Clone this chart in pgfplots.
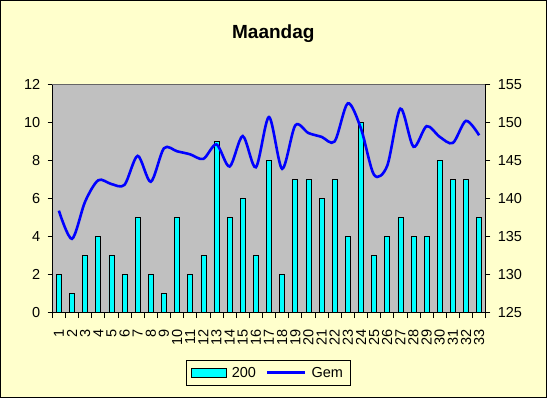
\documentclass[border=0pt]{standalone}
\usepackage{pgfplots}
\pgfplotsset{compat=1.18}
\usepackage{fontspec}
\setmainfont{Liberation Sans}
\definecolor{bgyellow}{HTML}{FFFFCC}
\definecolor{plotgray}{HTML}{C0C0C0}
\definecolor{barcyan}{HTML}{00FFFF}
\definecolor{lineblue}{HTML}{0000FF}
\pgfplotstableread{
x bars
1 2
2 1
3 3
4 4
5 3
6 2
7 5
8 2
9 1
10 5
11 2
12 3
13 9
14 5
15 6
16 3
17 8
18 2
19 7
20 7
21 6
22 7
23 4
24 10
25 3
26 4
27 5
28 4
29 4
30 8
31 7
32 7
33 5
}\bartable
\pgfplotstableread{
x gem
1 138.4
2 134.7
3 139.6
4 142.4
5 141.9
6 141.8
7 145.6
8 142.2
9 146.6
10 146.2
11 145.8
12 145.2
13 147.1
14 144.2
15 148.2
16 144.1
17 150.7
18 143.9
19 149.6
20 148.6
21 148.1
22 147.5
23 152.5
24 149.2
25 143.1
26 144.3
27 151.8
28 146.8
29 149.5
30 148.1
31 147.3
32 150.2
33 148.3
}\linetable
\begin{document}
\begin{tikzpicture}[x=1bp,y=1bp]
\useasboundingbox (0,0) rectangle (547,398);
\fill[bgyellow] (0,0) rectangle (547,398);
\draw[black, line width=1bp] (0.5,0.5) rectangle (546.5,397.5);
\node[font=\fontsize{19bp}{22bp}\selectfont\bfseries, anchor=base] at (273.3,359.7) {Maandag};
\pgfplotsset{
  common/.style={
    scale only axis,
    width=433.4bp, height=228.4bp,
    at={(52.3bp,85.3bp)}, anchor=south west,
    xmin=0.5, xmax=33.5,
    tick align=outside,
    major tick length=4.6bp,
    minor tick length=5.3bp,
    tick style={black, line width=0.8bp},
    axis line style={black, line width=0.8bp, -},
    tick label style={font=\fontsize{14.5bp}{16bp}\selectfont},
    /pgf/number format/assume math mode=true,
  }
}
\begin{axis}[common,
  axis background/.style={fill=plotgray},
  axis x line*=bottom, axis y line*=left,
  ymin=0, ymax=12, ytick={0,2,...,12},
  xtick={1,...,33},
  major x tick style={draw=none},
  minor xtick={0.5,1.5,...,33.5},
  xticklabel style={rotate=90, anchor=east, xshift=-9bp},
  yticklabel style={xshift=-4bp},
  after end axis/.code={\draw[color=gray!80!black, line width=0.8bp] (rel axis cs:0,1) -- (rel axis cs:1,1);},
]
\addplot[ybar, bar width=5bp, fill=barcyan, draw=black, line width=0.6bp] table[x=x,y=bars] {\bartable};
\end{axis}
\begin{axis}[common,
  axis x line=none, axis y line*=right,
  ymin=125, ymax=155, ytick={125,130,...,155},
  yticklabel style={xshift=4bp},
  legend columns=2,
  legend style={at={(0.498,-0.263)}, anchor=center, fill=bgyellow, draw=black, line width=0.8bp,
    font=\fontsize{14.5bp}{16bp}\selectfont, inner xsep=5bp, inner ysep=5bp,
    /tikz/every odd column/.append style={column sep=3bp},
    /tikz/every even column/.append style={column sep=8bp}},
]
\addlegendimage{legend image code/.code={\draw[fill=barcyan, draw=black, line width=0.6bp] (0bp,-4.7bp) rectangle (35bp,4.7bp);}}
\addlegendentry{200}
\addplot[lineblue, line width=2.6bp, smooth, tension=0.5, legend image code/.code={\draw[lineblue, line width=2.6bp] (0bp,0bp) -- (38bp,0bp);}] table[x=x,y=gem] {\linetable};
\addlegendentry{Gem}
\end{axis}
\end{tikzpicture}
\end{document}
